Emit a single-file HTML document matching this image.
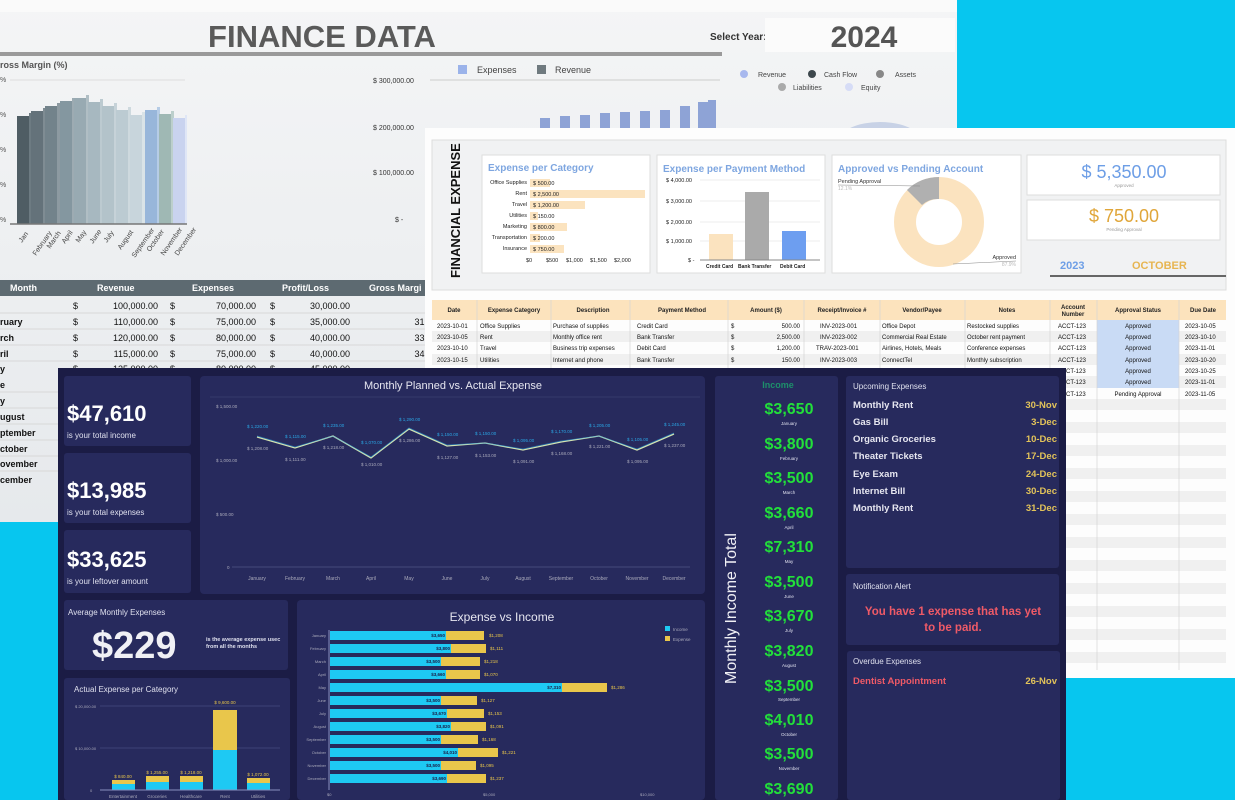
<!DOCTYPE html>
<html><head><meta charset="utf-8"><style>
html,body{margin:0;padding:0;width:1235px;height:800px;overflow:hidden;background:#07c6ef}
svg{display:block}
text{font-family:"Liberation Sans",sans-serif}
</style></head><body>
<svg width="1235" height="800" viewBox="0 0 1235 800" xmlns="http://www.w3.org/2000/svg">
<defs>
<linearGradient id="fbg" x1="0" y1="0" x2="0" y2="1"><stop offset="0" stop-color="#f4f5f6"/><stop offset="1" stop-color="#e6e9ec"/></linearGradient>
</defs>
<rect width="1235" height="800" fill="#07c6ef"/>
<!-- FINANCE DATA panel -->
<rect x="0" y="0" width="957" height="522" fill="url(#fbg)"/>
<rect x="0" y="0" width="957" height="12" fill="#fafafa"/>
<text x="322" y="47" font-size="31" font-weight="bold" fill="#5a5a5a" text-anchor="middle">FINANCE DATA</text>
<rect x="0" y="52" width="722" height="4" fill="#9a9a9a"/>
<text x="710" y="40" font-size="10" font-weight="bold" fill="#333">Select Year:</text>
<rect x="765" y="18" width="190" height="34" fill="#fbfbfb"/>
<text x="864" y="47" font-size="30" font-weight="bold" fill="#555" text-anchor="middle">2024</text>
<text x="0" y="68" font-size="9" font-weight="bold" fill="#555">ross Margin (%)</text>
<g fill="#555" font-size="7"><text x="0" y="82">%</text><text x="0" y="117">%</text><text x="0" y="152">%</text><text x="0" y="187">%</text><text x="0" y="222">%</text></g>
<line x1="10" y1="80" x2="185" y2="80" stroke="#ddd"/>
<g>
<rect x="17" y="116" width="12" height="108" fill="#4f5d64"/><rect x="29" y="113" width="3" height="111" fill="#6d7b82"/>
<rect x="31" y="111" width="12" height="113" fill="#64727a"/><rect x="43" y="108" width="3" height="116" fill="#7f8c93"/>
<rect x="45" y="106" width="12" height="118" fill="#73838b"/><rect x="57" y="103" width="3" height="121" fill="#8d9aa1"/>
<rect x="60" y="101" width="12" height="123" fill="#8497a0"/><rect x="72" y="98" width="3" height="126" fill="#9dabb2"/>
<rect x="74" y="98" width="12" height="126" fill="#98aab2"/><rect x="86" y="95" width="3" height="129" fill="#b0bec4"/>
<rect x="88" y="102" width="12" height="122" fill="#a7b8c0"/><rect x="100" y="99" width="3" height="125" fill="#bccad0"/>
<rect x="102" y="106" width="12" height="118" fill="#b3c3ca"/><rect x="114" y="103" width="3" height="121" fill="#c6d2d8"/>
<rect x="116" y="110" width="12" height="114" fill="#bccbd2"/><rect x="128" y="107" width="3" height="117" fill="#ced9de"/>
<rect x="130" y="115" width="12" height="109" fill="#c8d5dc"/><rect x="142" y="112" width="3" height="112" fill="#dae3e7"/>
<rect x="145" y="110" width="12" height="114" fill="#98b6da"/><rect x="157" y="107" width="3" height="117" fill="#b6cce6"/>
<rect x="159" y="114" width="12" height="110" fill="#9fb8b4"/><rect x="171" y="111" width="3" height="113" fill="#bccfcc"/>
<rect x="173" y="118" width="12" height="106" fill="#c9d3ef"/><rect x="185" y="115" width="2" height="109" fill="#dfe6f6"/>
</g>
<line x1="10" y1="224" x2="187" y2="224" stroke="#777" stroke-width="1.5"/>
<g font-size="7" fill="#444">
<text transform="translate(22,243) rotate(-55)">Jan</text><text transform="translate(36,256) rotate(-55)">February</text><text transform="translate(50,249) rotate(-55)">March</text><text transform="translate(65,244) rotate(-55)">April</text><text transform="translate(79,243) rotate(-55)">May</text><text transform="translate(93,244) rotate(-55)">June</text><text transform="translate(107,243) rotate(-55)">July</text><text transform="translate(121,250) rotate(-55)">August</text><text transform="translate(135,258) rotate(-55)">September</text><text transform="translate(150,252) rotate(-55)">October</text><text transform="translate(164,256) rotate(-55)">November</text><text transform="translate(178,256) rotate(-55)">December</text>
</g>
<g font-size="7" fill="#333"><text x="373" y="83">$ 300,000.00</text><text x="373" y="130">$ 200,000.00</text><text x="373" y="175">$ 100,000.00</text><text x="395" y="222">$ -</text></g>
<line x1="430" y1="80" x2="720" y2="80" stroke="#ccc"/>
<rect x="458" y="65" width="9" height="9" fill="#9bb3ea"/><text x="477" y="73" font-size="9" fill="#444">Expenses</text>
<rect x="537" y="65" width="9" height="9" fill="#6f7a7f"/><text x="555" y="73" font-size="9" fill="#444">Revenue</text>
<g fill="#8ea3d6"><rect x="540" y="118" width="10" height="12"/><rect x="560" y="116" width="10" height="14"/><rect x="580" y="115" width="10" height="15"/><rect x="600" y="113" width="10" height="17"/><rect x="620" y="112" width="10" height="18"/><rect x="640" y="111" width="10" height="19"/><rect x="660" y="110" width="10" height="20"/><rect x="680" y="106" width="10" height="24"/><rect x="698" y="102" width="10" height="28"/><rect x="708" y="100" width="8" height="30"/></g>
<circle cx="744" cy="74" r="4" fill="#a8b8ee"/><text x="758" y="77" font-size="7" fill="#444">Revenue</text>
<circle cx="812" cy="74" r="4" fill="#3d474c"/><text x="824" y="77" font-size="7" fill="#444">Cash Flow</text>
<circle cx="880" cy="74" r="4" fill="#888"/><text x="895" y="77" font-size="7" fill="#444">Assets</text>
<circle cx="782" cy="87" r="4" fill="#aaa"/><text x="793" y="90" font-size="7" fill="#444">Liabilities</text>
<circle cx="849" cy="87" r="4" fill="#d6dcf6"/><text x="861" y="90" font-size="7" fill="#444">Equity</text>
<ellipse cx="880" cy="140" rx="40" ry="18" fill="#c8d2e6"/>
<!-- finance table -->
<rect x="0" y="280" width="450" height="16" fill="#5d6a71"/>
<g font-size="9" font-weight="bold" fill="#fff"><text x="10" y="291">Month</text><text x="97" y="291">Revenue</text><text x="192" y="291">Expenses</text><text x="282" y="291">Profit/Loss</text><text x="369" y="291">Gross Margi</text></g>
<g font-size="9" fill="#111">
<text x="73" y="309">$</text><text x="158" y="309" text-anchor="end">100,000.00</text><text x="170" y="309">$</text><text x="256" y="309" text-anchor="end">70,000.00</text><text x="270" y="309">$</text><text x="350" y="309" text-anchor="end">30,000.00</text><text x="445" y="309" text-anchor="end">30%</text>
<text x="0" y="325" font-weight="bold">ruary</text><text x="73" y="325">$</text><text x="158" y="325" text-anchor="end">110,000.00</text><text x="170" y="325">$</text><text x="256" y="325" text-anchor="end">75,000.00</text><text x="270" y="325">$</text><text x="350" y="325" text-anchor="end">35,000.00</text><text x="445" y="325" text-anchor="end">31.82%</text>
<text x="0" y="341" font-weight="bold">rch</text><text x="73" y="341">$</text><text x="158" y="341" text-anchor="end">120,000.00</text><text x="170" y="341">$</text><text x="256" y="341" text-anchor="end">80,000.00</text><text x="270" y="341">$</text><text x="350" y="341" text-anchor="end">40,000.00</text><text x="445" y="341" text-anchor="end">33.33%</text>
<text x="0" y="357" font-weight="bold">ril</text><text x="73" y="357">$</text><text x="158" y="357" text-anchor="end">115,000.00</text><text x="170" y="357">$</text><text x="256" y="357" text-anchor="end">75,000.00</text><text x="270" y="357">$</text><text x="350" y="357" text-anchor="end">40,000.00</text><text x="445" y="357" text-anchor="end">34.78%</text>
<text x="0" y="372" font-weight="bold">y</text><text x="73" y="372">$</text><text x="158" y="372" text-anchor="end">125,000.00</text><text x="170" y="372">$</text><text x="256" y="372" text-anchor="end">80,000.00</text><text x="270" y="372">$</text><text x="350" y="372" text-anchor="end">45,000.00</text>
<text x="0" y="388" font-weight="bold">e</text><text x="0" y="404" font-weight="bold">y</text><text x="0" y="420" font-weight="bold">ugust</text><text x="0" y="436" font-weight="bold">ptember</text><text x="0" y="452" font-weight="bold">ctober</text><text x="0" y="467" font-weight="bold">ovember</text><text x="0" y="483" font-weight="bold">cember</text>
</g>
<g stroke="#d8d8d8"><line x1="0" y1="313" x2="450" y2="313"/><line x1="0" y1="329" x2="450" y2="329"/><line x1="0" y1="345" x2="450" y2="345"/><line x1="0" y1="361" x2="450" y2="361"/><line x1="0" y1="392" x2="58" y2="392"/><line x1="0" y1="408" x2="58" y2="408"/><line x1="0" y1="424" x2="58" y2="424"/><line x1="0" y1="440" x2="58" y2="440"/><line x1="0" y1="456" x2="58" y2="456"/><line x1="0" y1="471" x2="58" y2="471"/></g>

<!-- FINANCIAL EXPENSE panel -->
<rect x="425" y="128" width="810" height="550" fill="#fdfdfd"/>
<rect x="432" y="140" width="794" height="150" fill="#f1f2f3" stroke="#ddd"/>
<text transform="translate(460,278) rotate(-90)" font-family="Liberation Serif,serif" font-size="13" font-weight="bold" fill="#111">FINANCIAL EXPENSE</text>
<g fill="#fff" stroke="#ddd"><rect x="482" y="155" width="168" height="118"/><rect x="657" y="155" width="168" height="118"/><rect x="832" y="155" width="189" height="118"/><rect x="1027" y="155" width="193" height="40"/><rect x="1027" y="200" width="193" height="40"/></g>
<text x="488" y="171" font-size="10" font-weight="bold" fill="#7ea6e0">Expense per Category</text>
<text x="663" y="172" font-size="10" font-weight="bold" fill="#7ea6e0">Expense per Payment Method</text>
<text x="838" y="172" font-size="10" font-weight="bold" fill="#7ea6e0">Approved vs Pending Account</text>
<g font-size="5.5" fill="#222" text-anchor="end"><text x="527" y="184">Office Supplies</text><text x="527" y="195">Rent</text><text x="527" y="206">Travel</text><text x="527" y="217">Utilities</text><text x="527" y="228">Marketing</text><text x="527" y="239">Transportation</text><text x="527" y="250">Insurance</text></g>
<g fill="#fbe3bf"><rect x="530" y="179" width="20" height="8"/><rect x="530" y="190" width="115" height="8"/><rect x="530" y="201" width="55" height="8"/><rect x="530" y="212" width="8" height="8"/><rect x="530" y="223" width="37" height="8"/><rect x="530" y="234" width="10" height="8"/><rect x="530" y="245" width="34" height="8"/></g>
<g font-size="5.5" fill="#222"><text x="533" y="185">$ 500.00</text><text x="533" y="196">$ 2,500.00</text><text x="533" y="207">$ 1,200.00</text><text x="533" y="218">$ 150.00</text><text x="533" y="229">$ 800.00</text><text x="533" y="240">$ 200.00</text><text x="533" y="251">$ 750.00</text></g>
<g font-size="5.5" fill="#222"><text x="526" y="262">$0</text><text x="546" y="262">$500</text><text x="566" y="262">$1,000</text><text x="590" y="262">$1,500</text><text x="614" y="262">$2,000</text></g>
<g font-size="5.5" fill="#222"><text x="666" y="182">$ 4,000.00</text><text x="666" y="203">$ 3,000.00</text><text x="666" y="224">$ 2,000.00</text><text x="666" y="243">$ 1,000.00</text><text x="688" y="262">$ -</text></g>
<g stroke="#eee"><line x1="700" y1="180" x2="820" y2="180"/><line x1="700" y1="201" x2="820" y2="201"/><line x1="700" y1="222" x2="820" y2="222"/><line x1="700" y1="241" x2="820" y2="241"/></g>
<rect x="709" y="234" width="24" height="26" fill="#fbe3bf"/><rect x="745" y="192" width="24" height="68" fill="#aaa"/><rect x="782" y="231" width="24" height="29" fill="#6d9ef0"/>
<line x1="700" y1="260" x2="820" y2="260" stroke="#888"/>
<g font-size="5" font-weight="bold" fill="#222"><text x="706" y="268">Credit Card</text><text x="738" y="268">Bank Transfer</text><text x="780" y="268">Debit Card</text></g>
<circle cx="939" cy="222" r="34" fill="none" stroke="#fbe3bf" stroke-width="22"/>
<path d="M939 177 A45 45 0 0 0 907 190 L922 205 A23 23 0 0 1 939 199 Z" fill="#b0b0b0"/>
<text x="838" y="183" font-size="5.5" fill="#333">Pending Approval</text><text x="838" y="190" font-size="5" fill="#bbb">12.1%</text>
<line x1="838" y1="185" x2="920" y2="186" stroke="#888" stroke-width="0.6"/>
<text x="1016" y="259" font-size="5.5" fill="#333" text-anchor="end">Approved</text><text x="1016" y="266" font-size="5" fill="#bbb" text-anchor="end">87.9%</text>
<line x1="953" y1="264" x2="1016" y2="261" stroke="#888" stroke-width="0.6"/>
<text x="1124" y="178" font-size="18" fill="#6d9ee6" text-anchor="middle">$ 5,350.00</text><text x="1124" y="187" font-size="4.5" fill="#999" text-anchor="middle">Approved</text>
<text x="1124" y="222" font-size="18" fill="#e0a63a" text-anchor="middle">$ 750.00</text><text x="1124" y="231" font-size="4.5" fill="#999" text-anchor="middle">Pending Approval</text>
<text x="1060" y="269" font-size="11" font-weight="bold" fill="#6d9ee6">2023</text>
<text x="1132" y="269" font-size="11" font-weight="bold" fill="#e7b551">OCTOBER</text>
<rect x="1050" y="275" width="176" height="2" fill="#666"/>
<!-- table -->
<rect x="432" y="300" width="794" height="20" fill="#fce3bd"/>
<g font-size="6" font-weight="bold" fill="#222" text-anchor="middle"><text x="454" y="312">Date</text><text x="514" y="312">Expense Category</text><text x="593" y="312">Description</text><text x="682" y="312">Payment Method</text><text x="766" y="312">Amount ($)</text><text x="842" y="312">Receipt/Invoice #</text><text x="922" y="312">Vendor/Payee</text><text x="1007" y="312">Notes</text><text x="1073" y="309">Account</text><text x="1073" y="316">Number</text><text x="1138" y="312">Approval Status</text><text x="1203" y="312">Due Date</text></g>
<g fill="#f0f0f0"><rect x="432" y="331" width="794" height="11"/><rect x="432" y="354" width="794" height="11"/><rect x="432" y="376" width="794" height="12"/><rect x="432" y="399" width="794" height="11"/><rect x="432" y="422" width="794" height="11"/><rect x="432" y="445" width="794" height="11"/><rect x="432" y="468" width="794" height="11"/><rect x="432" y="491" width="794" height="11"/><rect x="432" y="514" width="794" height="11"/><rect x="432" y="537" width="794" height="11"/><rect x="432" y="560" width="794" height="11"/><rect x="432" y="583" width="794" height="11"/><rect x="432" y="606" width="794" height="11"/><rect x="432" y="629" width="794" height="11"/><rect x="432" y="652" width="794" height="11"/></g>
<rect x="1097" y="320" width="82" height="68" fill="#c9dbf5"/>
<g stroke="#d4d4d4" stroke-width="0.7"><line x1="477" y1="300" x2="477" y2="400"/><line x1="551" y1="300" x2="551" y2="400"/><line x1="630" y1="300" x2="630" y2="400"/><line x1="728" y1="300" x2="728" y2="400"/><line x1="804" y1="300" x2="804" y2="400"/><line x1="880" y1="300" x2="880" y2="400"/><line x1="965" y1="300" x2="965" y2="400"/><line x1="1050" y1="300" x2="1050" y2="670"/><line x1="1097" y1="300" x2="1097" y2="670"/><line x1="1179" y1="300" x2="1179" y2="670"/></g>
<g font-size="6" fill="#111">
<text x="437" y="328">2023-10-01</text><text x="480" y="328">Office Supplies</text><text x="553" y="328">Purchase of supplies</text><text x="637" y="328">Credit Card</text><text x="731" y="328">$</text><text x="800" y="328" text-anchor="end">500.00</text><text x="820" y="328">INV-2023-001</text><text x="882" y="328">Office Depot</text><text x="967" y="328">Restocked supplies</text><text x="1058" y="328">ACCT-123</text><text x="1138" y="328" text-anchor="middle">Approved</text><text x="1185" y="328">2023-10-05</text>
<text x="437" y="339">2023-10-05</text><text x="480" y="339">Rent</text><text x="553" y="339">Monthly office rent</text><text x="637" y="339">Bank Transfer</text><text x="731" y="339">$</text><text x="800" y="339" text-anchor="end">2,500.00</text><text x="820" y="339">INV-2023-002</text><text x="882" y="339">Commercial Real Estate</text><text x="967" y="339">October rent payment</text><text x="1058" y="339">ACCT-123</text><text x="1138" y="339" text-anchor="middle">Approved</text><text x="1185" y="339">2023-10-10</text>
<text x="437" y="350">2023-10-10</text><text x="480" y="350">Travel</text><text x="553" y="350">Business trip expenses</text><text x="637" y="350">Debit Card</text><text x="731" y="350">$</text><text x="800" y="350" text-anchor="end">1,200.00</text><text x="816" y="350">TRAV-2023-001</text><text x="882" y="350">Airlines, Hotels, Meals</text><text x="967" y="350">Conference expenses</text><text x="1058" y="350">ACCT-123</text><text x="1138" y="350" text-anchor="middle">Approved</text><text x="1185" y="350">2023-11-01</text>
<text x="437" y="362">2023-10-15</text><text x="480" y="362">Utilities</text><text x="553" y="362">Internet and phone</text><text x="637" y="362">Bank Transfer</text><text x="731" y="362">$</text><text x="800" y="362" text-anchor="end">150.00</text><text x="820" y="362">INV-2023-003</text><text x="882" y="362">ConnectTel</text><text x="967" y="362">Monthly subscription</text><text x="1058" y="362">ACCT-123</text><text x="1138" y="362" text-anchor="middle">Approved</text><text x="1185" y="362">2023-10-20</text>
<text x="1138" y="373" text-anchor="middle">Approved</text><text x="1185" y="373">2023-10-25</text><text x="1066" y="373">CT-123</text>
<text x="1138" y="384" text-anchor="middle">Approved</text><text x="1185" y="384">2023-11-01</text><text x="1066" y="384">CT-123</text>
<text x="1138" y="396" text-anchor="middle">Pending Approval</text><text x="1185" y="396">2023-11-05</text><text x="1066" y="396">CT-123</text>
</g>

<!-- DARK DASHBOARD -->
<rect x="58" y="368" width="1008" height="432" fill="#1b1c45"/>
<g fill="#272a5d">
<rect x="64" y="376" width="127" height="70" rx="3"/><rect x="64" y="453" width="127" height="70" rx="3"/><rect x="64" y="530" width="127" height="63" rx="3"/>
<rect x="200" y="376" width="505" height="218" rx="4"/>
<rect x="64" y="600" width="224" height="70" rx="3"/><rect x="64" y="678" width="226" height="122" rx="3"/>
<rect x="297" y="600" width="408" height="200" rx="4"/>
<rect x="715" y="376" width="123" height="424" rx="3"/>
<rect x="846" y="376" width="213" height="192" rx="3"/><rect x="846" y="574" width="213" height="71" rx="3"/><rect x="847" y="651" width="213" height="149" rx="3"/>
</g>
<g fill="#fff"><text x="67" y="421" font-size="22" font-weight="bold">$47,610</text><text x="67" y="498" font-size="22" font-weight="bold">$13,985</text><text x="67" y="567" font-size="22" font-weight="bold">$33,625</text></g>
<g fill="#dfe0ee" font-size="8"><text x="67" y="438">is your total income</text><text x="67" y="515">is your total expenses</text><text x="67" y="584">is your leftover amount</text></g>
<text x="453" y="389" font-size="11" fill="#e6e6f0" text-anchor="middle">Monthly Planned vs. Actual Expense</text>
<line x1="210" y1="397" x2="700" y2="397" stroke="#363a6c"/>
<g font-size="4.5" fill="#aab"><text x="216" y="408">$ 1,500.00</text><text x="216" y="462">$ 1,000.00</text><text x="216" y="516">$ 500.00</text><text x="227" y="569">0</text></g>
<line x1="232" y1="567" x2="690" y2="567" stroke="#444a7a"/>
<polyline fill="none" stroke="#d5e3b0" stroke-width="1.3" points="257,437 295,448 333,436 371,458 409,429 447,446 485,443 523,450 561,442 599,436 637,450 674,434"/>
<polyline fill="none" stroke="#2aa7e6" stroke-width="0.8" opacity="0.6" points="257,436 295,447 333,436 371,457 409,428 447,445 485,443 523,449 561,441 599,436 637,449 674,433"/>
<g font-size="4.5" fill="#2aa7e6"><text x="247" y="428">$ 1,220.00</text><text x="285" y="438">$ 1,115.00</text><text x="323" y="427">$ 1,235.00</text><text x="361" y="444">$ 1,070.00</text><text x="399" y="421">$ 1,290.00</text><text x="437" y="436">$ 1,150.00</text><text x="475" y="435">$ 1,150.00</text><text x="513" y="442">$ 1,095.00</text><text x="551" y="433">$ 1,170.00</text><text x="589" y="427">$ 1,205.00</text><text x="627" y="441">$ 1,105.00</text><text x="664" y="426">$ 1,245.00</text></g>
<g font-size="4.5" fill="#aab"><text x="247" y="450">$ 1,208.00</text><text x="285" y="461">$ 1,111.00</text><text x="323" y="449">$ 1,218.00</text><text x="361" y="466">$ 1,010.00</text><text x="399" y="442">$ 1,286.00</text><text x="437" y="459">$ 1,127.00</text><text x="475" y="457">$ 1,153.00</text><text x="513" y="463">$ 1,091.00</text><text x="551" y="455">$ 1,168.00</text><text x="589" y="448">$ 1,221.00</text><text x="627" y="463">$ 1,095.00</text><text x="664" y="447">$ 1,237.00</text></g>
<g font-size="5" fill="#aab" text-anchor="middle"><text x="257" y="580">January</text><text x="295" y="580">February</text><text x="333" y="580">March</text><text x="371" y="580">April</text><text x="409" y="580">May</text><text x="447" y="580">June</text><text x="485" y="580">July</text><text x="523" y="580">August</text><text x="561" y="580">September</text><text x="599" y="580">October</text><text x="637" y="580">November</text><text x="674" y="580">December</text></g>
<text x="68" y="615" font-size="8" fill="#dfe0ee">Average Monthly Expenses</text>
<text x="92" y="658" font-size="38" font-weight="bold" fill="#f0f0f5">$229</text>
<text x="206" y="641" font-size="5.5" font-weight="bold" fill="#dfe0ee">is the average expense usec</text><text x="206" y="648" font-size="5.5" font-weight="bold" fill="#dfe0ee">from all the months</text>
<text x="74" y="692" font-size="8" fill="#dfe0ee">Actual Expense per Category</text>
<g font-size="4" fill="#aab"><text x="75" y="708">$ 20,000.00</text><text x="75" y="750">$ 10,000.00</text><text x="90" y="792">0</text></g>
<line x1="100" y1="706" x2="280" y2="706" stroke="#3d4276"/><line x1="100" y1="748" x2="280" y2="748" stroke="#3d4276"/>
<g fill="#1ec9f3"><rect x="112" y="784" width="23" height="6"/><rect x="146" y="782" width="23" height="8"/><rect x="180" y="782" width="23" height="8"/><rect x="213" y="750" width="24" height="40"/><rect x="247" y="783" width="23" height="7"/></g>
<g fill="#e9c64b"><rect x="112" y="780" width="23" height="4"/><rect x="146" y="776" width="23" height="6"/><rect x="180" y="776" width="23" height="6"/><rect x="213" y="710" width="24" height="40"/><rect x="247" y="778" width="23" height="5"/></g>
<line x1="100" y1="790" x2="280" y2="790" stroke="#8890c0"/>
<g font-size="4.5" fill="#e9c64b" text-anchor="middle"><text x="123" y="778">$ 840.00</text><text x="157" y="774">$ 1,255.00</text><text x="191" y="774">$ 1,218.00</text><text x="225" y="704">$ 9,600.00</text><text x="258" y="776">$ 1,072.00</text></g>
<g font-size="4.5" fill="#aab" text-anchor="middle"><text x="123" y="798">Entertainment</text><text x="157" y="798">Groceries</text><text x="191" y="798">Healthcare</text><text x="225" y="798">Rent</text><text x="258" y="798">Utilities</text></g>
<text x="502" y="621" font-size="12" fill="#e6e6f0" text-anchor="middle">Expense vs Income</text>
<rect x="665" y="626" width="5" height="5" fill="#1ec9f3"/><text x="673" y="631" font-size="4.5" fill="#aab">Income</text>
<rect x="665" y="636" width="5" height="5" fill="#e9c64b"/><text x="673" y="641" font-size="4.5" fill="#aab">Expense</text>
<line x1="329" y1="630" x2="329" y2="790" stroke="#8890c0"/>
<g font-size="4" fill="#aab" text-anchor="end"><text x="326" y="637">January</text><text x="326" y="650">February</text><text x="326" y="663">March</text><text x="326" y="676">April</text><text x="326" y="689">May</text><text x="326" y="702">June</text><text x="326" y="715">July</text><text x="326" y="728">August</text><text x="326" y="741">September</text><text x="326" y="754">October</text><text x="326" y="767">November</text><text x="326" y="780">December</text></g>
<g fill="#1ec9f3"><rect x="330" y="631" width="116" height="9"/><rect x="330" y="644" width="121" height="9"/><rect x="330" y="657" width="111" height="9"/><rect x="330" y="670" width="116" height="9"/><rect x="330" y="683" width="232" height="9"/><rect x="330" y="696" width="111" height="9"/><rect x="330" y="709" width="117" height="9"/><rect x="330" y="722" width="121" height="9"/><rect x="330" y="735" width="111" height="9"/><rect x="330" y="748" width="128" height="9"/><rect x="330" y="761" width="111" height="9"/><rect x="330" y="774" width="117" height="9"/></g>
<g fill="#e9c64b"><rect x="446" y="631" width="38" height="9"/><rect x="451" y="644" width="35" height="9"/><rect x="441" y="657" width="39" height="9"/><rect x="446" y="670" width="34" height="9"/><rect x="562" y="683" width="45" height="9"/><rect x="441" y="696" width="36" height="9"/><rect x="447" y="709" width="37" height="9"/><rect x="451" y="722" width="35" height="9"/><rect x="441" y="735" width="37" height="9"/><rect x="458" y="748" width="40" height="9"/><rect x="441" y="761" width="35" height="9"/><rect x="447" y="774" width="39" height="9"/></g>
<g font-size="4.5" font-weight="bold" fill="#1a1c45" text-anchor="end"><text x="445" y="637">$3,650</text><text x="450" y="650">$3,800</text><text x="440" y="663">$3,500</text><text x="445" y="676">$3,660</text><text x="561" y="689">$7,310</text><text x="440" y="702">$3,500</text><text x="446" y="715">$3,670</text><text x="450" y="728">$3,820</text><text x="440" y="741">$3,500</text><text x="457" y="754">$4,010</text><text x="440" y="767">$3,500</text><text x="446" y="780">$3,690</text></g>
<g font-size="4.5" fill="#e9c64b"><text x="489" y="637">$1,208</text><text x="490" y="650">$1,111</text><text x="484" y="663">$1,218</text><text x="484" y="676">$1,070</text><text x="611" y="689">$1,286</text><text x="481" y="702">$1,127</text><text x="488" y="715">$1,153</text><text x="490" y="728">$1,091</text><text x="482" y="741">$1,168</text><text x="502" y="754">$1,221</text><text x="480" y="767">$1,095</text><text x="490" y="780">$1,237</text></g>
<g font-size="4" fill="#aab"><text x="327" y="796">$0</text><text x="483" y="796">$5,000</text><text x="640" y="796">$10,000</text></g>
<text x="778" y="388" font-size="9" font-weight="bold" fill="#1d8f6a" text-anchor="middle">Income</text>
<text transform="translate(736,684) rotate(-90)" font-size="16" fill="#f0f0f5">Monthly Income Total</text>
<g font-size="16" font-weight="bold" fill="#22e03a" text-anchor="middle"><text x="789" y="414">$3,650</text><text x="789" y="449">$3,800</text><text x="789" y="483">$3,500</text><text x="789" y="518">$3,660</text><text x="789" y="552">$7,310</text><text x="789" y="587">$3,500</text><text x="789" y="621">$3,670</text><text x="789" y="656">$3,820</text><text x="789" y="691">$3,500</text><text x="789" y="725">$4,010</text><text x="789" y="759">$3,500</text><text x="789" y="794">$3,690</text></g>
<g font-size="4.5" fill="#dfe0ee" text-anchor="middle"><text x="789" y="425">January</text><text x="789" y="460">February</text><text x="789" y="494">March</text><text x="789" y="529">April</text><text x="789" y="563">May</text><text x="789" y="598">June</text><text x="789" y="632">July</text><text x="789" y="667">August</text><text x="789" y="701">September</text><text x="789" y="736">October</text><text x="789" y="770">November</text></g>
<text x="853" y="389" font-size="8" fill="#dfe0ee">Upcoming Expenses</text>
<g font-size="9.5" font-weight="bold" fill="#e6e6f0"><text x="853" y="408">Monthly Rent</text><text x="853" y="425">Gas Bill</text><text x="853" y="442">Organic Groceries</text><text x="853" y="459">Theater Tickets</text><text x="853" y="477">Eye Exam</text><text x="853" y="494">Internet Bill</text><text x="853" y="511">Monthly Rent</text></g>
<g font-size="9.5" font-weight="bold" fill="#e2c35a" text-anchor="end"><text x="1057" y="408">30-Nov</text><text x="1057" y="425">3-Dec</text><text x="1057" y="442">10-Dec</text><text x="1057" y="459">17-Dec</text><text x="1057" y="477">24-Dec</text><text x="1057" y="494">30-Dec</text><text x="1057" y="511">31-Dec</text></g>
<text x="853" y="589" font-size="8" fill="#dfe0ee">Notification Alert</text>
<text x="953" y="615" font-size="11.5" font-weight="bold" fill="#ef5a67" text-anchor="middle">You have 1 expense that has yet</text>
<text x="953" y="631" font-size="11.5" font-weight="bold" fill="#ef5a67" text-anchor="middle">to be paid.</text>
<text x="853" y="664" font-size="8" fill="#dfe0ee">Overdue Expenses</text>
<text x="853" y="684" font-size="9.5" font-weight="bold" fill="#ef5a67">Dentist Appointment</text>
<text x="1057" y="684" font-size="9.5" font-weight="bold" fill="#e2c35a" text-anchor="end">26-Nov</text>
</svg>
</body></html>
